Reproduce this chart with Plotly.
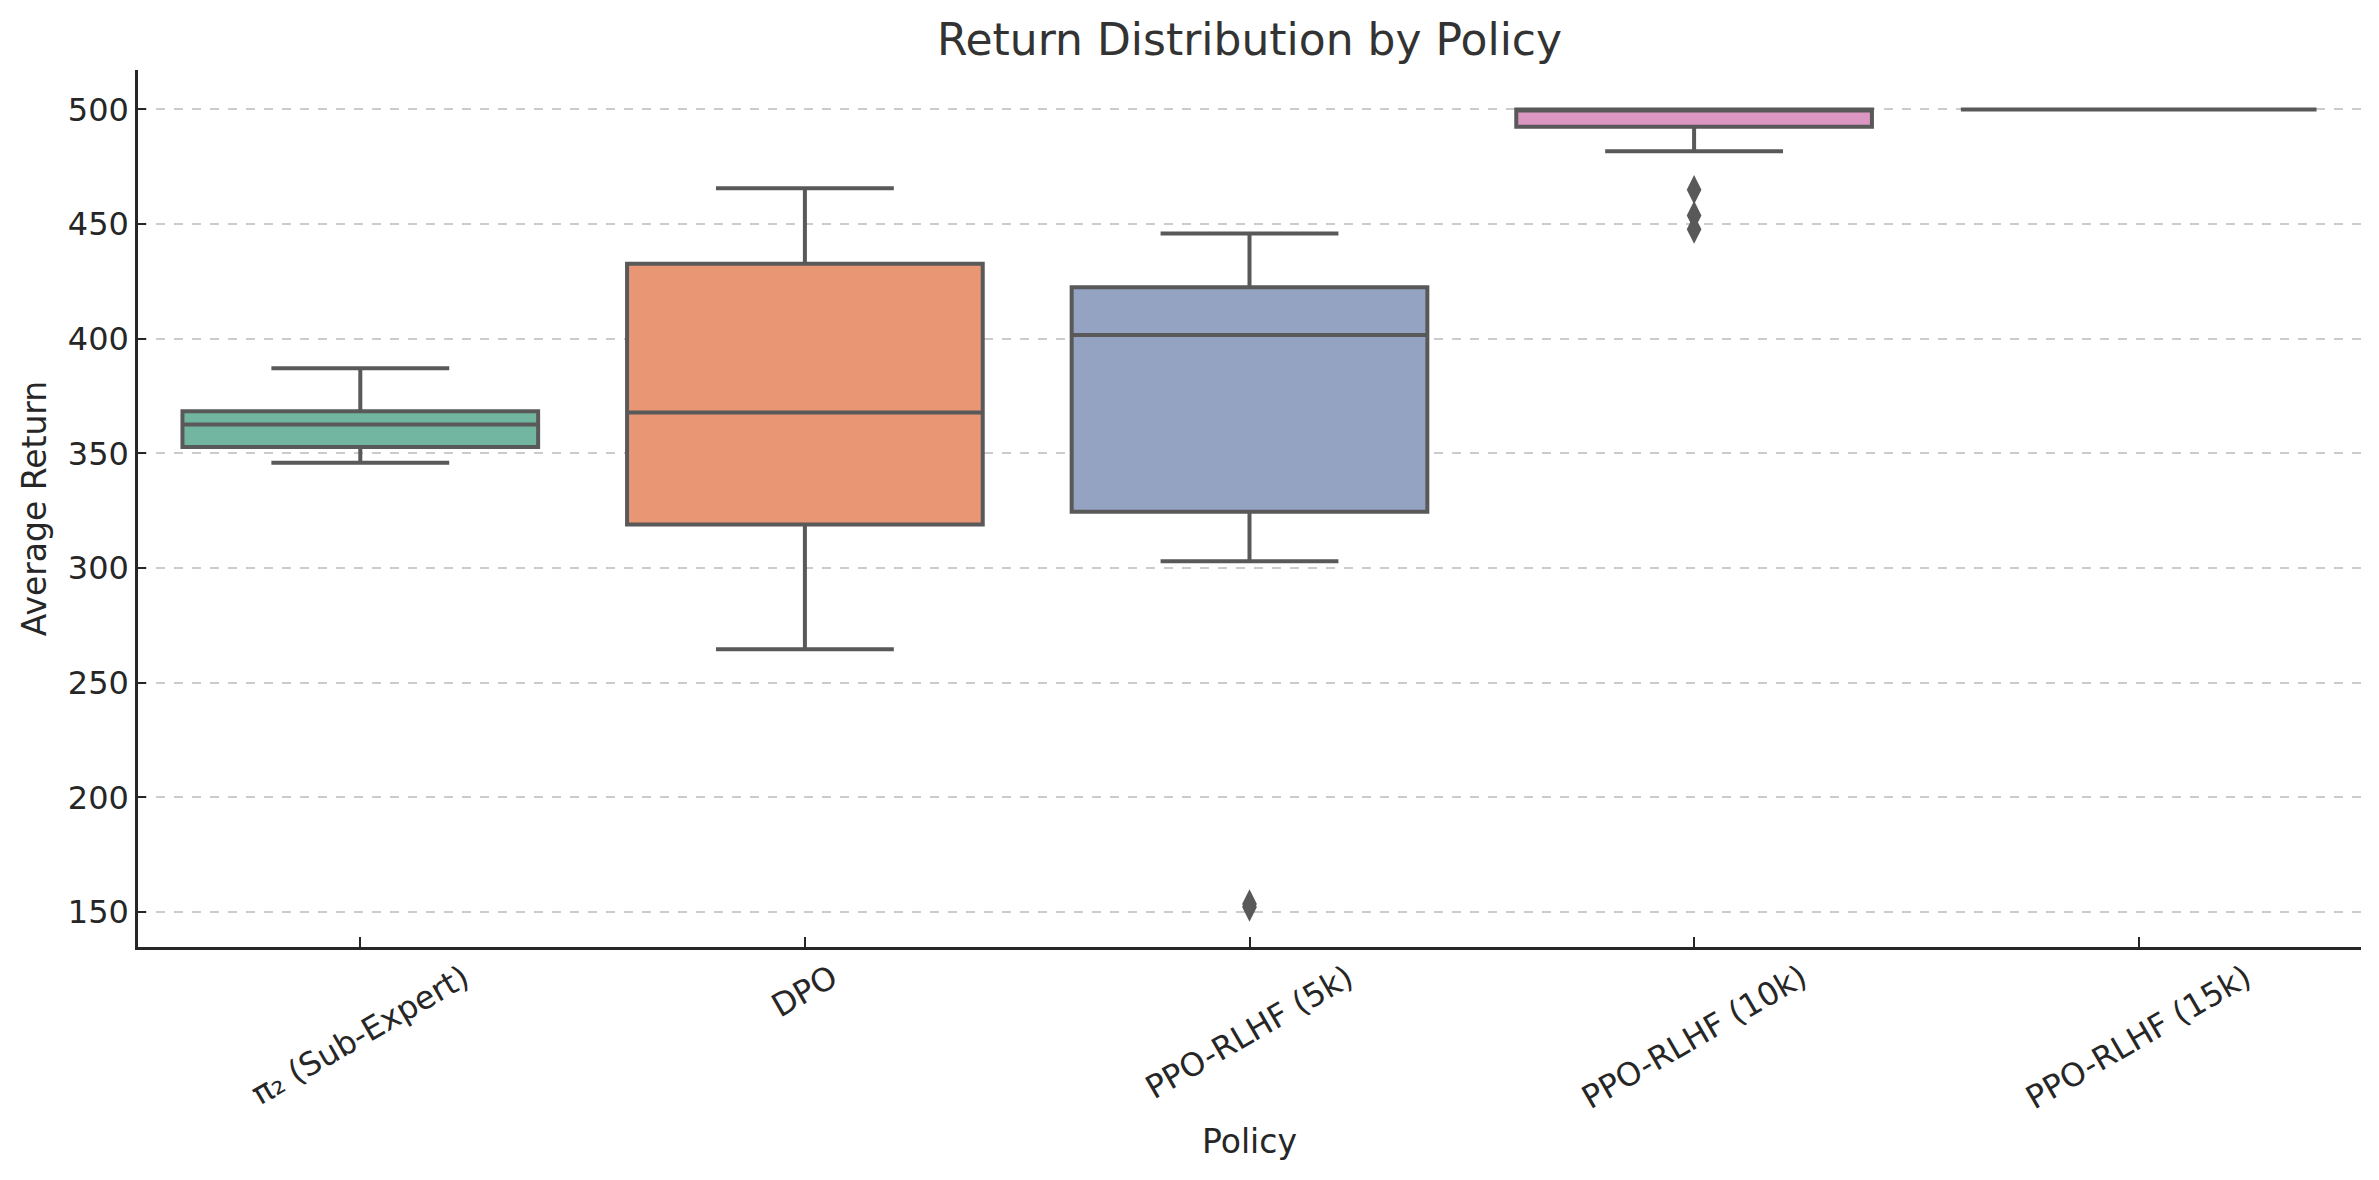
import plotly.graph_objects as go

# policies and box statistics
policies = ["π₂ (Sub-Expert)", "DPO", "PPO-RLHF (5k)", "PPO-RLHF (10k)", "PPO-RLHF (15k)"]
q1 = [352.8, 319.0, 324.6, 492.5, 500.0]
median = [362.6, 367.9, 401.6, 500.0, 500.0]
q3 = [368.4, 432.7, 422.5, 500.0, 500.0]
lower_whisker = [346.0, 264.6, 303.0, 481.8, 500.0]
upper_whisker = [387.2, 465.6, 445.9, 500.0, 500.0]

# outliers (policy, value)
outlier_policy = ["PPO-RLHF (5k)", "PPO-RLHF (5k)", "PPO-RLHF (10k)", "PPO-RLHF (10k)", "PPO-RLHF (10k)"]
outlier_value = [152.2, 153.6, 465.0, 453.8, 447.8]

colors = ["#72b6a1", "#e99675", "#95a3c3", "#db96c1", "#a2c864"]
edge = "#595959"
txt = "#262626"

fig = go.Figure()

for i, name in enumerate(policies):
    fig.add_trace(go.Box(
        x=[name],
        q1=[q1[i]], median=[median[i]], q3=[q3[i]],
        lowerfence=[lower_whisker[i]], upperfence=[upper_whisker[i]],
        fillcolor=colors[i],
        line=dict(color=edge, width=4),
        width=0.8,
        whiskerwidth=0.5,
        boxpoints=False,
        showlegend=False,
        hoverinfo="y",
    ))

fig.add_trace(go.Scatter(
    x=outlier_policy, y=outlier_value,
    mode="markers",
    marker=dict(symbol="diamond-tall", size=21, color=edge, line=dict(width=0)),
    showlegend=False,
))

# rotated category labels, centred under each tick like matplotlib's ha="center"
for name in policies:
    fig.add_annotation(
        x=name, y=0, xref="x", yref="paper",
        text=name, showarrow=False, textangle=-30,
        xanchor="center", yanchor="top", yshift=-8,
        font=dict(size=32, color=txt),
    )

fig.update_layout(
    width=2379, height=1180,
    paper_bgcolor="white", plot_bgcolor="white",
    margin=dict(l=130, r=26, t=62, b=241),
    font=dict(family="DejaVu Sans", size=32, color=txt),
    boxmode="overlay",
    title=dict(text="Return Distribution by Policy", x=0.5, xref="paper",
               y=0.973, yanchor="middle", font=dict(size=44, color="#333333")),
)

fig.update_xaxes(
    type="category", categoryorder="array", categoryarray=policies,
    range=[-0.5, 4.5],
    showticklabels=False,
    showline=True, linecolor=txt, linewidth=2.5,
    ticks="inside", ticklen=10, tickwidth=2, tickcolor=txt,
    showgrid=False,
    title=dict(text="Policy", font=dict(size=33), standoff=182),
)

fig.update_yaxes(
    range=[134.8, 517.2],
    tickvals=[150, 200, 250, 300, 350, 400, 450, 500],
    showline=True, linecolor=txt, linewidth=2.5,
    ticks="inside", ticklen=8, tickwidth=2, tickcolor=txt,
    showgrid=True, gridcolor="#cccccc", gridwidth=1.5, griddash="dash",
    zeroline=False,
    title=dict(text="Average Return", font=dict(size=33), standoff=12),
)

fig.write_html("out.html")
